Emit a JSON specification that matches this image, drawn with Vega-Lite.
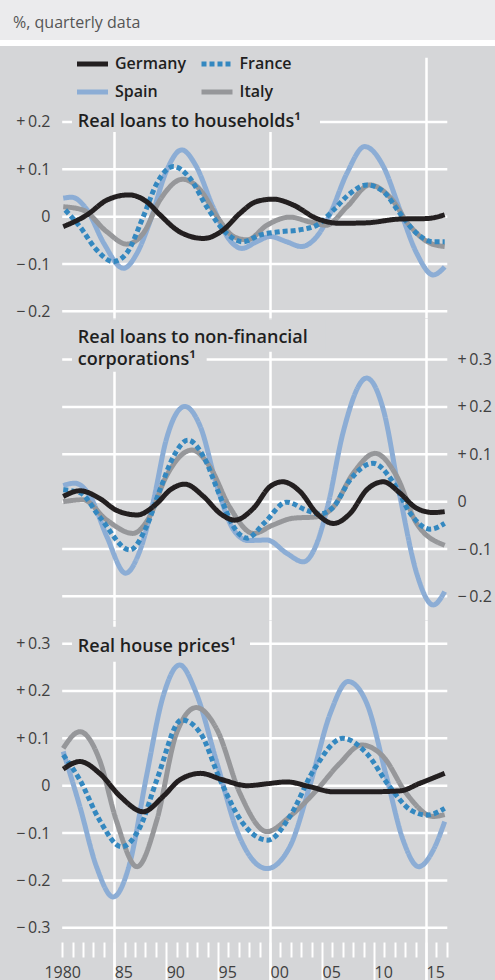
{
  "$schema": "https://vega.github.io/schema/vega-lite/v6.json",
  "padding": 0,
  "background": "#ffffff",
  "config": {"view": {"stroke": null}, "font": "Open Sans"},
  "datasets": {
    "hh": [
      {"country":"Spain","year":1980.1,"value":0.039},{"country":"Spain","year":1980.9,"value":0.041},{"country":"Spain","year":1982.4,"value":0.014},{"country":"Spain","year":1984.0,"value":-0.056},{"country":"Spain","year":1985.9,"value":-0.109},{"country":"Spain","year":1987.2,"value":-0.077},{"country":"Spain","year":1988.5,"value":-0.007},{"country":"Spain","year":1990.0,"value":0.095},{"country":"Spain","year":1991.5,"value":0.141},{"country":"Spain","year":1992.9,"value":0.106},{"country":"Spain","year":1994.5,"value":0.021},{"country":"Spain","year":1996.1,"value":-0.049},{"country":"Spain","year":1997.3,"value":-0.067},{"country":"Spain","year":1998.7,"value":-0.053},{"country":"Spain","year":2000.0,"value":-0.042},{"country":"Spain","year":2001.6,"value":-0.053},{"country":"Spain","year":2003.0,"value":-0.063},{"country":"Spain","year":2004.5,"value":-0.042},{"country":"Spain","year":2005.8,"value":0.007},{"country":"Spain","year":2007.4,"value":0.092},{"country":"Spain","year":2009.1,"value":0.148},{"country":"Spain","year":2010.9,"value":0.106},{"country":"Spain","year":2012.5,"value":0.014},{"country":"Spain","year":2014.1,"value":-0.077},{"country":"Spain","year":2015.7,"value":-0.123},{"country":"Spain","year":2016.8,"value":-0.106},
      {"country":"Italy","year":1980.1,"value":0.021},{"country":"Italy","year":1982.0,"value":0.014},{"country":"Italy","year":1984.3,"value":-0.032},{"country":"Italy","year":1986.2,"value":-0.058},{"country":"Italy","year":1987.8,"value":-0.035},{"country":"Italy","year":1989.4,"value":0.035},{"country":"Italy","year":1991.6,"value":0.079},{"country":"Italy","year":1993.3,"value":0.056},{"country":"Italy","year":1994.9,"value":0.0},{"country":"Italy","year":1996.5,"value":-0.042},{"country":"Italy","year":1997.8,"value":-0.049},{"country":"Italy","year":1999.7,"value":-0.018},{"country":"Italy","year":2001.9,"value":-0.001},{"country":"Italy","year":2003.8,"value":-0.011},{"country":"Italy","year":2005.4,"value":-0.018},{"country":"Italy","year":2007.4,"value":0.021},{"country":"Italy","year":2009.6,"value":0.067},{"country":"Italy","year":2011.5,"value":0.042},{"country":"Italy","year":2013.5,"value":-0.021},{"country":"Italy","year":2015.4,"value":-0.056},{"country":"Italy","year":2016.8,"value":-0.063},
      {"country":"France","year":1980.3,"value":0.014},{"country":"France","year":1981.7,"value":-0.021},{"country":"France","year":1983.3,"value":-0.070},{"country":"France","year":1984.9,"value":-0.095},{"country":"France","year":1986.2,"value":-0.077},{"country":"France","year":1987.8,"value":0.0},{"country":"France","year":1989.1,"value":0.070},{"country":"France","year":1990.7,"value":0.106},{"country":"France","year":1992.3,"value":0.081},{"country":"France","year":1993.9,"value":0.021},{"country":"France","year":1995.8,"value":-0.035},{"country":"France","year":1997.4,"value":-0.053},{"country":"France","year":1999.0,"value":-0.039},{"country":"France","year":2000.9,"value":-0.032},{"country":"France","year":2002.8,"value":-0.028},{"country":"France","year":2004.5,"value":-0.018},{"country":"France","year":2006.1,"value":0.014},{"country":"France","year":2007.7,"value":0.049},{"country":"France","year":2009.3,"value":0.067},{"country":"France","year":2010.9,"value":0.053},{"country":"France","year":2012.5,"value":0.007},{"country":"France","year":2014.1,"value":-0.035},{"country":"France","year":2015.7,"value":-0.053},{"country":"France","year":2016.8,"value":-0.053},
      {"country":"Germany","year":1980.1,"value":-0.021},{"country":"Germany","year":1982.4,"value":0.004},{"country":"Germany","year":1984.3,"value":0.035},{"country":"Germany","year":1986.4,"value":0.046},{"country":"Germany","year":1988.1,"value":0.032},{"country":"Germany","year":1989.4,"value":0.004},{"country":"Germany","year":1991.3,"value":-0.032},{"country":"Germany","year":1993.6,"value":-0.046},{"country":"Germany","year":1995.5,"value":-0.028},{"country":"Germany","year":1997.1,"value":0.007},{"country":"Germany","year":1998.7,"value":0.032},{"country":"Germany","year":2000.3,"value":0.037},{"country":"Germany","year":2002.2,"value":0.025},{"country":"Germany","year":2004.5,"value":-0.004},{"country":"Germany","year":2006.7,"value":-0.014},{"country":"Germany","year":2009.3,"value":-0.013},{"country":"Germany","year":2012.5,"value":-0.005},{"country":"Germany","year":2015.1,"value":-0.004},{"country":"Germany","year":2016.8,"value":0.004}
    ],
    "nfc": [
      {"country":"Spain","year":1980.1,"value":0.034},{"country":"Spain","year":1981.2,"value":0.039},{"country":"Spain","year":1982.7,"value":0.011},{"country":"Spain","year":1984.3,"value":-0.074},{"country":"Spain","year":1986.1,"value":-0.151},{"country":"Spain","year":1987.5,"value":-0.102},{"country":"Spain","year":1988.8,"value":0.004},{"country":"Spain","year":1990.0,"value":0.130},{"country":"Spain","year":1991.8,"value":0.201},{"country":"Spain","year":1993.3,"value":0.158},{"country":"Spain","year":1994.9,"value":0.032},{"country":"Spain","year":1996.5,"value":-0.060},{"country":"Spain","year":1997.9,"value":-0.082},{"country":"Spain","year":1999.7,"value":-0.081},{"country":"Spain","year":2001.6,"value":-0.109},{"country":"Spain","year":2003.2,"value":-0.127},{"country":"Spain","year":2004.5,"value":-0.088},{"country":"Spain","year":2005.6,"value":-0.004},{"country":"Spain","year":2007.0,"value":0.144},{"country":"Spain","year":2009.3,"value":0.261},{"country":"Spain","year":2010.9,"value":0.194},{"country":"Spain","year":2012.5,"value":0.011},{"country":"Spain","year":2014.1,"value":-0.151},{"country":"Spain","year":2015.7,"value":-0.218},{"country":"Spain","year":2016.8,"value":-0.190},
      {"country":"Italy","year":1980.1,"value":0.0},{"country":"Italy","year":1982.0,"value":0.004},{"country":"Italy","year":1984.3,"value":-0.039},{"country":"Italy","year":1986.8,"value":-0.067},{"country":"Italy","year":1988.4,"value":-0.032},{"country":"Italy","year":1990.0,"value":0.053},{"country":"Italy","year":1992.5,"value":0.109},{"country":"Italy","year":1994.2,"value":0.074},{"country":"Italy","year":1996.1,"value":-0.011},{"country":"Italy","year":1998.4,"value":-0.067},{"country":"Italy","year":2000.3,"value":-0.049},{"country":"Italy","year":2002.2,"value":-0.035},{"country":"Italy","year":2004.5,"value":-0.032},{"country":"Italy","year":2006.1,"value":-0.011},{"country":"Italy","year":2008.0,"value":0.060},{"country":"Italy","year":2010.1,"value":0.102},{"country":"Italy","year":2012.2,"value":0.053},{"country":"Italy","year":2014.1,"value":-0.046},{"country":"Italy","year":2016.8,"value":-0.092},
      {"country":"France","year":1980.1,"value":0.025},{"country":"France","year":1981.7,"value":0.019},{"country":"France","year":1983.6,"value":-0.032},{"country":"France","year":1986.5,"value":-0.102},{"country":"France","year":1988.1,"value":-0.053},{"country":"France","year":1989.4,"value":0.025},{"country":"France","year":1990.7,"value":0.095},{"country":"France","year":1992.1,"value":0.130},{"country":"France","year":1993.6,"value":0.095},{"country":"France","year":1995.2,"value":0.011},{"country":"France","year":1996.5,"value":-0.053},{"country":"France","year":1997.8,"value":-0.077},{"country":"France","year":1999.4,"value":-0.046},{"country":"France","year":2001.6,"value":-0.001},{"country":"France","year":2003.5,"value":-0.018},{"country":"France","year":2004.8,"value":-0.026},{"country":"France","year":2006.1,"value":-0.011},{"country":"France","year":2007.7,"value":0.046},{"country":"France","year":2009.9,"value":0.081},{"country":"France","year":2011.9,"value":0.039},{"country":"France","year":2013.5,"value":-0.025},{"country":"France","year":2015.4,"value":-0.058},{"country":"France","year":2016.8,"value":-0.046},
      {"country":"Germany","year":1980.1,"value":0.011},{"country":"Germany","year":1981.7,"value":0.023},{"country":"Germany","year":1983.6,"value":0.007},{"country":"Germany","year":1985.2,"value":-0.018},{"country":"Germany","year":1987.2,"value":-0.028},{"country":"Germany","year":1989.1,"value":-0.004},{"country":"Germany","year":1990.4,"value":0.025},{"country":"Germany","year":1991.8,"value":0.037},{"country":"Germany","year":1993.6,"value":0.011},{"country":"Germany","year":1995.2,"value":-0.025},{"country":"Germany","year":1996.6,"value":-0.039},{"country":"Germany","year":1998.4,"value":-0.014},{"country":"Germany","year":2000.0,"value":0.032},{"country":"Germany","year":2001.2,"value":0.042},{"country":"Germany","year":2002.9,"value":0.021},{"country":"Germany","year":2004.5,"value":-0.025},{"country":"Germany","year":2006.1,"value":-0.046},{"country":"Germany","year":2007.7,"value":-0.025},{"country":"Germany","year":2009.3,"value":0.025},{"country":"Germany","year":2010.9,"value":0.042},{"country":"Germany","year":2012.5,"value":0.018},{"country":"Germany","year":2014.1,"value":-0.014},{"country":"Germany","year":2015.7,"value":-0.023},{"country":"Germany","year":2016.8,"value":-0.021}
    ],
    "hp": [
      {"country":"Spain","year":1980.1,"value":0.072},{"country":"Spain","year":1981.7,"value":-0.044},{"country":"Spain","year":1983.3,"value":-0.171},{"country":"Spain","year":1984.9,"value":-0.235},{"country":"Spain","year":1986.5,"value":-0.164},{"country":"Spain","year":1988.1,"value":0.019},{"country":"Spain","year":1989.7,"value":0.188},{"country":"Spain","year":1991.3,"value":0.255},{"country":"Spain","year":1992.9,"value":0.195},{"country":"Spain","year":1994.9,"value":0.047},{"country":"Spain","year":1996.8,"value":-0.094},{"country":"Spain","year":1999.7,"value":-0.175},{"country":"Spain","year":2001.9,"value":-0.129},{"country":"Spain","year":2003.8,"value":-0.002},{"country":"Spain","year":2005.8,"value":0.153},{"country":"Spain","year":2007.5,"value":0.220},{"country":"Spain","year":2009.3,"value":0.174},{"country":"Spain","year":2011.2,"value":0.019},{"country":"Spain","year":2012.8,"value":-0.115},{"country":"Spain","year":2014.3,"value":-0.171},{"country":"Spain","year":2015.7,"value":-0.136},{"country":"Spain","year":2016.8,"value":-0.076},
      {"country":"Italy","year":1980.1,"value":0.079},{"country":"Italy","year":1981.7,"value":0.114},{"country":"Italy","year":1983.6,"value":0.054},{"country":"Italy","year":1985.2,"value":-0.073},{"country":"Italy","year":1987.2,"value":-0.171},{"country":"Italy","year":1989.1,"value":-0.073},{"country":"Italy","year":1991.0,"value":0.111},{"country":"Italy","year":1992.9,"value":0.165},{"country":"Italy","year":1994.9,"value":0.118},{"country":"Italy","year":1997.1,"value":-0.016},{"country":"Italy","year":1999.7,"value":-0.097},{"country":"Italy","year":2001.9,"value":-0.065},{"country":"Italy","year":2004.5,"value":-0.009},{"country":"Italy","year":2006.7,"value":0.047},{"country":"Italy","year":2008.8,"value":0.086},{"country":"Italy","year":2010.9,"value":0.061},{"country":"Italy","year":2013.1,"value":-0.016},{"country":"Italy","year":2015.7,"value":-0.065},{"country":"Italy","year":2016.8,"value":-0.061},
      {"country":"France","year":1980.1,"value":0.065},{"country":"France","year":1981.7,"value":0.012},{"country":"France","year":1983.6,"value":-0.073},{"country":"France","year":1985.7,"value":-0.129},{"country":"France","year":1987.5,"value":-0.087},{"country":"France","year":1989.1,"value":0.012},{"country":"France","year":1991.5,"value":0.139},{"country":"France","year":1993.3,"value":0.111},{"country":"France","year":1995.2,"value":0.012},{"country":"France","year":1997.4,"value":-0.080},{"country":"France","year":1999.8,"value":-0.115},{"country":"France","year":2001.9,"value":-0.065},{"country":"France","year":2004.2,"value":0.033},{"country":"France","year":2007.0,"value":0.100},{"country":"France","year":2009.3,"value":0.068},{"country":"France","year":2011.5,"value":-0.002},{"country":"France","year":2013.5,"value":-0.051},{"country":"France","year":2015.1,"value":-0.062},{"country":"France","year":2016.8,"value":-0.048},
      {"country":"Germany","year":1980.1,"value":0.035},{"country":"Germany","year":1981.7,"value":0.051},{"country":"Germany","year":1983.6,"value":0.026},{"country":"Germany","year":1985.6,"value":-0.023},{"country":"Germany","year":1987.8,"value":-0.055},{"country":"Germany","year":1989.7,"value":-0.023},{"country":"Germany","year":1991.3,"value":0.012},{"country":"Germany","year":1993.3,"value":0.026},{"country":"Germany","year":1995.5,"value":0.012},{"country":"Germany","year":1997.8,"value":0.0},{"country":"Germany","year":1999.7,"value":0.004},{"country":"Germany","year":2001.6,"value":0.008},{"country":"Germany","year":2003.8,"value":-0.002},{"country":"Germany","year":2006.1,"value":-0.013},{"country":"Germany","year":2009.3,"value":-0.013},{"country":"Germany","year":2012.5,"value":-0.011},{"country":"Germany","year":2014.4,"value":0.005},{"country":"Germany","year":2016.8,"value":0.026}
    ]
  },
  "spacing": 6,
  "bounds": "flush",
  "vconcat": [
    {
      "width": 495,
      "height": 40,
      "view": {"fill": "#ebebed", "stroke": null},
      "title": {"text": "%, quarterly data", "anchor": "start", "orient": "top", "frame": "group", "offset": -44, "dx": 13, "baseline": "alphabetic", "font": "Open Sans", "fontSize": 16, "fontWeight": "normal", "color": "#555555"},
      "data": {"values": [{}]},
      "mark": {"type": "text"},
      "encoding": {"text": {"value": ""}}
    },
    {
      "spacing": 0,
      "bounds": "flush",
      "resolve": {"scale": {"color": "independent", "strokeDash": "independent"}, "legend": {"color": "independent", "strokeDash": "independent"}},
      "vconcat": [
        {
          "width": 495,
          "height": 272,
          "view": {"fill": "#d5d6d8", "stroke": null},
          "layer": [
            {
              "data": {"values": [{"g": -0.2}, {"g": -0.1}, {"g": 0}, {"g": 0.1}, {"g": 0.2}]},
              "mark": {"type": "rule", "color": "#ffffff", "strokeWidth": 2.5},
              "encoding": {
                "x": {"datum": 1980, "type": "quantitative", "scale": {"domain": [1974.016, 2021.64], "nice": false, "zero": false},
                      "axis": {"values": [1985, 2000, 2015], "tickCount": 50, "grid": true, "gridColor": "#ffffff", "gridWidth": 2.5, "gridOpacity": 1, "labels": false, "ticks": false, "domain": false, "title": null}},
                "x2": {"datum": 2017.05},
                "y": {"field": "g", "type": "quantitative", "scale": {"domain": [-0.214, 0.3604], "nice": false, "zero": false},
                      "axis": {"orient": "left", "values": [-0.2, -0.1, 0, 0.1, 0.2], "tickCount": 20, "grid": false, "domain": false, "ticks": false, "tickSize": 0, "offset": -62, "labelPadding": 12, "labelFont": "Open Sans", "labelFontSize": 16, "labelColor": "#404040", "title": null,
                               "labelExpr": "datum.value > 0 ? '+\u2009' + format(datum.value, '.1f') : (datum.value < 0 ? '\u2212\u2009' + format(-datum.value, '.1f') : '0')"}}
              }
            },
            {
              "data": {"values": [{}]},
              "mark": {"type": "rect", "color": "#d5d6d8"},
              "encoding": {"x": {"datum": 1974.016}, "x2": {"datum": 2021.64}, "y": {"datum": 0.3604}, "y2": {"datum": 0.3357}}
            },
            {
              "data": {"values": [{}]},
              "mark": {"type": "rect", "color": "#d5d6d8"},
              "encoding": {"x": {"datum": 1980.94}, "x2": {"datum": 2004.8}, "y": {"datum": 0.3604}, "y2": {"datum": 0.1788}}
            },
            {
              "data": {"name": "hh"},
              "mark": {"type": "line", "interpolate": "monotone", "strokeWidth": 5, "strokeCap": "butt"},
              "encoding": {
                "x": {"field": "year", "type": "quantitative"},
                "y": {"field": "value", "type": "quantitative"},
                "color": {"field": "country", "type": "nominal",
                          "scale": {"domain": ["Germany", "Spain", "France", "Italy"], "range": ["#231f20", "#8cadd5", "#3488c0", "#96979a"]},
                          "legend": {"orient": "none", "legendX": 74.5, "legendY": 0, "columns": 2, "title": null, "symbolType": "stroke", "symbolSize": 961, "symbolStrokeWidth": 5, "labelFont": "Open Sans", "labelFontSize": 16, "labelFontWeight": 600, "labelColor": "#1f1f1f", "labelOffset": 4.5, "columnPadding": 4.5, "rowPadding": -4, "padding": 0}},
                "strokeDash": {"field": "country", "type": "nominal",
                               "scale": {"domain": ["Germany", "Spain", "France", "Italy"], "range": [[1, 0], [1, 0], [5, 3], [1, 0]]},
                               "legend": {"orient": "none", "legendX": 74.5, "legendY": 0, "columns": 2, "title": null, "symbolType": "stroke", "symbolSize": 961, "symbolStrokeWidth": 5, "labelFont": "Open Sans", "labelFontSize": 16, "labelFontWeight": 600, "labelColor": "#1f1f1f", "labelOffset": 4.5, "columnPadding": 4.5, "rowPadding": -4, "padding": 0}}
              }
            },
            {
              "data": {"values": [{}]},
              "mark": {"type": "text", "text": "Real loans to households¹", "align": "left", "baseline": "alphabetic", "font": "Open Sans", "fontSize": 18, "fontWeight": 600, "color": "#1f1f1f"},
              "encoding": {"x": {"datum": 1981.5}, "y": {"datum": 0.19}}
            }
          ]
        },
        {
          "width": 495,
          "height": 302,
          "view": {"fill": "#d5d6d8", "stroke": null},
          "layer": [
            {
              "data": {"values": [{"g": -0.2}, {"g": -0.1}, {"g": 0}, {"g": 0.1}, {"g": 0.2}, {"g": 0.3}]},
              "mark": {"type": "rule", "color": "#ffffff", "strokeWidth": 2.5},
              "encoding": {
                "x": {"datum": 1980, "type": "quantitative", "scale": {"domain": [1974.016, 2021.64], "nice": false, "zero": false},
                      "axis": {"values": [1985, 2000, 2015], "tickCount": 50, "grid": true, "gridColor": "#ffffff", "gridWidth": 2.5, "gridOpacity": 1, "labels": false, "ticks": false, "domain": false, "title": null}},
                "x2": {"datum": 2017.05},
                "y": {"field": "g", "type": "quantitative", "scale": {"domain": [-0.2499, 0.3879], "nice": false, "zero": false},
                      "axis": {"orient": "right", "values": [-0.2, -0.1, 0, 0.1, 0.2, 0.3], "tickCount": 20, "grid": false, "domain": false, "ticks": false, "tickSize": 0, "offset": -48, "labelPadding": 10, "labelFont": "Open Sans", "labelFontSize": 16, "labelColor": "#404040", "title": null,
                               "labelExpr": "datum.value > 0 ? '+\u2009' + format(datum.value, '.1f') : (datum.value < 0 ? '\u2212\u2009' + format(-datum.value, '.1f') : '0')"}}
              }
            },
            {
              "data": {"values": [{}]},
              "mark": {"type": "rect", "color": "#d5d6d8"},
              "encoding": {"x": {"datum": 1980.94}, "x2": {"datum": 2005.3}, "y": {"datum": 0.3852}, "y2": {"datum": 0.3167}}
            },
            {
              "data": {"values": [{}]},
              "mark": {"type": "rect", "color": "#d5d6d8"},
              "encoding": {"x": {"datum": 1980.94}, "x2": {"datum": 1993.9}, "y": {"datum": 0.3167}, "y2": {"datum": 0.2745}}
            },
            {
              "data": {"name": "nfc"},
              "mark": {"type": "line", "interpolate": "monotone", "strokeWidth": 5, "strokeCap": "butt"},
              "encoding": {
                "x": {"field": "year", "type": "quantitative"},
                "y": {"field": "value", "type": "quantitative"},
                "color": {"field": "country", "type": "nominal",
                          "scale": {"domain": ["Germany", "Spain", "France", "Italy"], "range": ["#231f20", "#8cadd5", "#3488c0", "#96979a"]}, "legend": null},
                "strokeDash": {"field": "country", "type": "nominal",
                               "scale": {"domain": ["Germany", "Spain", "France", "Italy"], "range": [[1, 0], [1, 0], [5, 3], [1, 0]]}, "legend": null}
              }
            },
            {
              "data": {"values": [{}]},
              "mark": {"type": "text", "text": ["Real loans to non-financial", "corporations¹"], "lineHeight": 22.6, "align": "left", "baseline": "alphabetic", "font": "Open Sans", "fontSize": 18, "fontWeight": 600, "color": "#1f1f1f"},
              "encoding": {"x": {"datum": 1981.5}, "y": {"datum": 0.3357}}
            }
          ]
        },
        {
          "width": 495,
          "height": 360,
          "view": {"fill": "#d5d6d8", "stroke": null},
          "layer": [
            {
              "data": {"values": [{"g": -0.3}, {"g": -0.2}, {"g": -0.1}, {"g": 0}, {"g": 0.1}, {"g": 0.2}, {"g": 0.3}]},
              "mark": {"type": "rule", "color": "#ffffff", "strokeWidth": 2.5},
              "encoding": {
                "x": {"datum": 1980, "type": "quantitative", "scale": {"domain": [1974.016, 2021.64], "nice": false, "zero": false},
                      "axis": {"values": [1980,1981,1982,1983,1984,1985,1986,1987,1988,1989,1990,1991,1992,1993,1994,1995,1996,1997,1998,1999,2000,2001,2002,2003,2004,2005,2006,2007,2008,2009,2010,2011,2012,2013,2014,2015,2016,2017],
                               "tickCount": 100,
                               "grid": true, "gridColor": "#ffffff", "gridWidth": 2.5,
                               "gridOpacity": {"condition": {"test": "datum.value === 1985 || datum.value === 2000 || datum.value === 2015", "value": 1}, "value": 0},
                               "offset": -38, "domain": false, "ticks": true, "tickColor": "#ffffff", "tickWidth": 2,
                               "tickSize": {"condition": {"test": "datum.value % 5 === 0 && datum.value > 1980", "value": 38}, "value": 15},
                               "labelExpr": "datum.value % 5 === 0 ? (datum.value === 1980 ? '1980' : substring(toString(datum.value), 2)) : ''",
                               "labelAlign": {"condition": {"test": "datum.value === 1980", "value": "center"}, "value": "left"},
                               "labelPadding": {"condition": {"test": "datum.value % 5 === 0 && datum.value > 1980", "value": -3}, "value": 20},
                               "labelBaseline": "alphabetic", "labelFont": "Open Sans", "labelFontSize": 16, "labelColor": "#404040",
                               "labelOverlap": false, "labelFlush": false, "labelBound": false, "title": null}},
                "x2": {"datum": 2017.05},
                "y": {"field": "g", "type": "quantitative", "scale": {"domain": [-0.4104, 0.3499], "nice": false, "zero": false},
                      "axis": {"orient": "left", "values": [-0.3, -0.2, -0.1, 0, 0.1, 0.2, 0.3], "tickCount": 20, "grid": false, "domain": false, "ticks": false, "tickSize": 0, "offset": -62, "labelPadding": 12, "labelFont": "Open Sans", "labelFontSize": 16, "labelColor": "#404040", "title": null,
                               "labelExpr": "datum.value > 0 ? '+\u2009' + format(datum.value, '.1f') : (datum.value < 0 ? '\u2212\u2009' + format(-datum.value, '.1f') : '0')"}}
              }
            },
            {
              "data": {"values": [{}]},
              "mark": {"type": "rect", "color": "#d5d6d8"},
              "encoding": {"x": {"datum": 1980.94}, "x2": {"datum": 1998.07}, "y": {"datum": 0.3357}, "y2": {"datum": 0.2618}}
            },
            {
              "data": {"name": "hp"},
              "mark": {"type": "line", "interpolate": "monotone", "strokeWidth": 5, "strokeCap": "butt"},
              "encoding": {
                "x": {"field": "year", "type": "quantitative"},
                "y": {"field": "value", "type": "quantitative"},
                "color": {"field": "country", "type": "nominal",
                          "scale": {"domain": ["Germany", "Spain", "France", "Italy"], "range": ["#231f20", "#8cadd5", "#3488c0", "#96979a"]}, "legend": null},
                "strokeDash": {"field": "country", "type": "nominal",
                               "scale": {"domain": ["Germany", "Spain", "France", "Italy"], "range": [[1, 0], [1, 0], [5, 3], [1, 0]]}, "legend": null}
              }
            },
            {
              "data": {"values": [{}]},
              "mark": {"type": "text", "text": "Real house prices¹", "align": "left", "baseline": "alphabetic", "font": "Open Sans", "fontSize": 18, "fontWeight": 600, "color": "#1f1f1f"},
              "encoding": {"x": {"datum": 1981.5}, "y": {"datum": 0.2829}}
            }
          ]
        }
      ]
    }
  ]
}
